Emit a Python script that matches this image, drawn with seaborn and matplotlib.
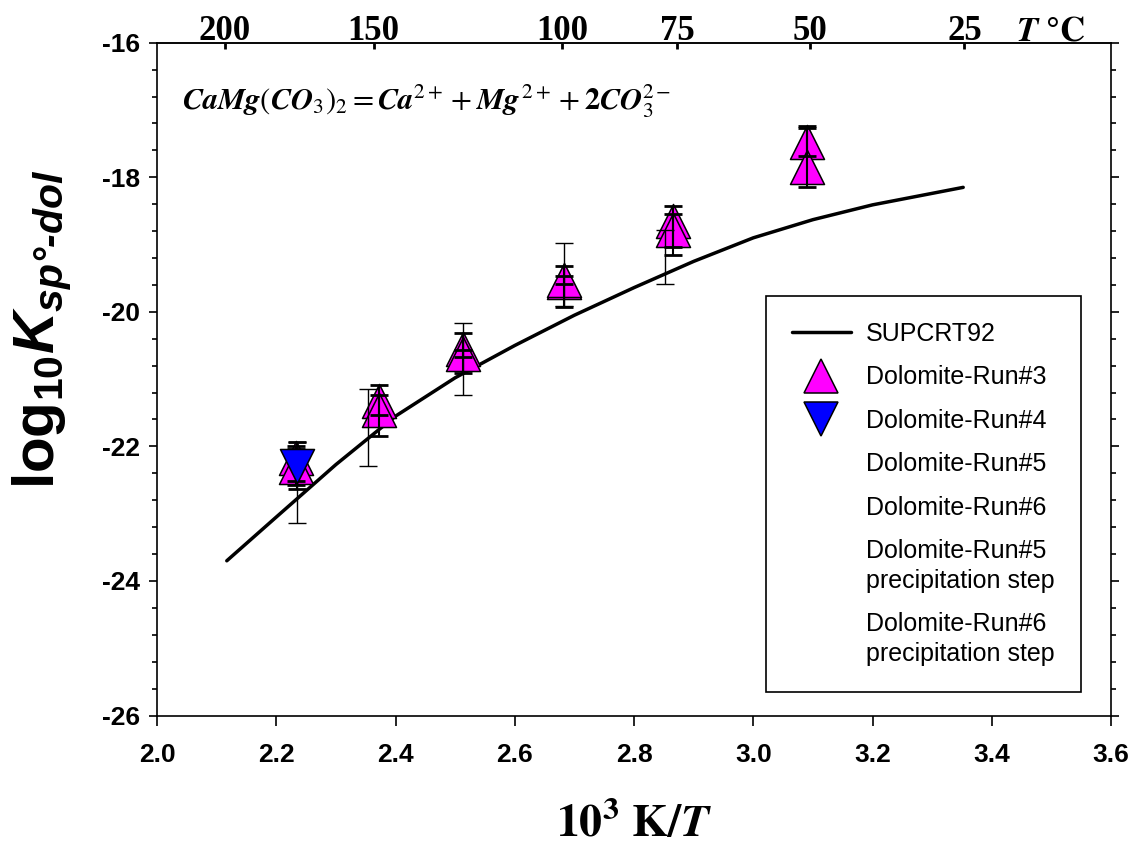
import matplotlib
matplotlib.use("Agg")
import matplotlib.pyplot as plt
import matplotlib.transforms as mtransforms
from matplotlib import font_manager
from matplotlib.ft2font import FT2Font
from matplotlib.lines import Line2D
from matplotlib.ticker import MultipleLocator, FormatStrFormatter
import seaborn as sns

sns.set_theme(style="white")
plt.rcParams["font.family"] = ["Liberation Sans", "DejaVu Sans"]
plt.rcParams["axes.unicode_minus"] = False
plt.rcParams["text.color"] = "black"
plt.rcParams["axes.labelcolor"] = "black"
plt.rcParams["xtick.color"] = "black"
plt.rcParams["ytick.color"] = "black"
plt.rcParams["mathtext.fontset"] = "custom"
plt.rcParams["mathtext.rm"] = "Liberation Sans"
plt.rcParams["mathtext.bf"] = "Liberation Sans:bold"
plt.rcParams["mathtext.it"] = "Liberation Sans:italic"
plt.rcParams["mathtext.bfit"] = "Liberation Sans:bold:italic"

# SUPCRT92 curve
supcrt_x = [2.117, 2.20, 2.30, 2.40, 2.50, 2.60, 2.70, 2.80, 2.90, 3.00, 3.10, 3.20, 3.352]
supcrt_y = [-23.70, -23.05, -22.27, -21.55, -20.98, -20.50, -20.05, -19.64, -19.25, -18.90, -18.63, -18.41, -18.15]

# Dolomite-Run#3
run3_x = [2.233, 2.233, 2.372, 2.372, 2.513, 2.513, 2.683, 2.683, 2.865, 2.865, 3.090, 3.090]
run3_y = [-22.17, -22.30, -21.32, -21.46, -20.55, -20.62, -19.56, -19.52, -18.65, -18.79, -17.47, -17.85]
run3_lo = [0.34, 0.27, 0.22, 0.38, 0.36, 0.05, 0.37, 0.06, 0.38, 0.36, 0.22, 0.30]
run3_hi = [0.18, 0.26, 0.23, 0.22, 0.24, 0.05, 0.24, 0.06, 0.22, 0.25, 0.23, 0.58]

# Dolomite-Run#4
run4_x = [2.235]
run4_y = [-22.29]
run4_lo = [0.34]
run4_hi = [0.36]

# Dolomite-Run#5 (symbols not visible, only error bars)
run5_x = [2.235, 2.354, 2.513, 2.683, 2.852]
run5_y = [-22.54, -21.72, -20.70, -19.45, -19.18]
run5_err = [0.60, 0.57, 0.54, 0.47, 0.40]

legend_labels = ["SUPCRT92", "Dolomite-Run#3", "Dolomite-Run#4", "Dolomite-Run#5",
                 "Dolomite-Run#6", "Dolomite-Run#5\nprecipitation step",
                 "Dolomite-Run#6\nprecipitation step"]

top_temps = [200, 150, 100, 75, 50, 25]

MAGENTA = "#FF00FF"
BLUE = "#0000FF"


def to_celsius(x):
    return 1000.0 / x - 273.15


def to_inv_kelvin(t):
    return 1000.0 / (t + 273.15)


# mathtext turns "-" into a minus sign; use a real hyphen if the font has one
bi_path = font_manager.findfont(font_manager.FontProperties(family="Liberation Sans",
                                                           weight="bold", style="italic"))
hyphen = "\u2010" if FT2Font(bi_path).get_char_index(0x2010) else "-"

fig = plt.figure(figsize=(11.37, 8.49), dpi=100)
ax = fig.add_axes([0.1381, 0.1572, 0.8391, 0.7925])

sns.lineplot(x=supcrt_x, y=supcrt_y, color="black", linewidth=2.5, sort=False, ax=ax, zorder=2)

sns.scatterplot(x=run3_x, y=run3_y, marker="^", s=600, color=MAGENTA, edgecolor="black",
                linewidth=1.1, ax=ax, zorder=3, legend=False)
ax.errorbar(run3_x, run3_y, yerr=[run3_lo, run3_hi], fmt="none", ecolor="black",
            elinewidth=1.5, capsize=6.5, capthick=2, zorder=4)
ax.errorbar(run5_x, run5_y, yerr=run5_err, fmt="none", ecolor="black",
            elinewidth=1, capsize=6.5, capthick=1, zorder=4)
ax.errorbar(run4_x, run4_y, yerr=[run4_lo, run4_hi], fmt="none", ecolor="black",
            elinewidth=1.5, capsize=6.5, capthick=2, zorder=4)
sns.scatterplot(x=run4_x, y=run4_y, marker="v", s=600, color=BLUE, edgecolor="black",
                linewidth=1.1, ax=ax, zorder=5, legend=False)

ax.set_xlim(2.0, 3.6)
ax.set_ylim(-26, -16)
ax.xaxis.set_major_locator(MultipleLocator(0.2))
ax.yaxis.set_major_locator(MultipleLocator(2))
ax.yaxis.set_minor_locator(MultipleLocator(0.4))
ax.xaxis.set_major_formatter(FormatStrFormatter("%.1f"))
ax.grid(False)
for s in ax.spines.values():
    s.set_color("black")
    s.set_linewidth(1.2)

ax.tick_params(axis="x", which="major", direction="out", length=7, width=1.2,
               bottom=True, top=False, labelsize=19, pad=13)
ax.tick_params(axis="y", which="both", direction="out", left=True, right=True,
               width=1.2, labelsize=19, pad=7)
ax.tick_params(axis="y", which="major", length=5.5)
ax.tick_params(axis="y", which="minor", length=3.5)
for lbl in ax.get_xticklabels() + ax.get_yticklabels():
    lbl.set_fontweight("bold")

# temperature axis on top
top = ax.secondary_xaxis("top", functions=(to_celsius, to_inv_kelvin))
top.set_xticks(top_temps, [str(t) for t in top_temps])
top.tick_params(direction="in", length=4, width=2, pad=-4, labelsize=25)
top.spines["top"].set_linewidth(1.2)
for lbl in top.get_xticklabels():
    lbl.set_fontfamily("Liberation Serif")
    lbl.set_fontweight("bold")
trans = mtransforms.blended_transform_factory(ax.transData, ax.transAxes)
ax.text(3.498, 1.004, r"$\mathbfit{T}\ \mathbf{°C}$", transform=trans, ha="center",
        va="baseline", fontsize=25, math_fontfamily="stix")

ax.text(0.026, 0.900,
        r"$\mathbfit{CaMg}(\mathbfit{CO}_3)_2 = \mathbfit{Ca}^{2+} + \mathbfit{Mg}^{\,2+} + \mathbf{2}\mathbfit{CO}_3^{2-}$",
        transform=ax.transAxes, ha="left", va="baseline", fontsize=22, math_fontfamily="stix")

ax.set_xlabel(r"$\mathbf{10^{3}\ K/}\mathbfit{T}$", fontsize=33, math_fontfamily="stix",
              va="baseline")
ax.xaxis.set_label_coords(0.5, -0.181)
ax.set_ylabel(r"$\mathbf{log}_{\mathbf{10}}\mathbfit{K}_{\mathbfit{sp°" + hyphen + r"dol}}$",
              fontsize=42)
ax.yaxis.set_label_coords(-0.088, 0.574)

handles = [
    Line2D([], [], color="black", linewidth=2.5),
    Line2D([], [], marker="^", linestyle="none", markersize=24.5, markerfacecolor=MAGENTA,
           markeredgecolor="black", markeredgewidth=1.1),
    Line2D([], [], marker="v", linestyle="none", markersize=24.5, markerfacecolor=BLUE,
           markeredgecolor="black", markeredgewidth=1.1),
    Line2D([], [], linestyle="none"),
    Line2D([], [], linestyle="none"),
    Line2D([], [], linestyle="none"),
    Line2D([], [], linestyle="none"),
]
leg = ax.legend(handles, legend_labels, loc="upper left", bbox_to_anchor=(0.638, 0.624),
                fontsize=18, frameon=True, fancybox=False, framealpha=1, edgecolor="black",
                borderpad=1.05, handlelength=2.35, handletextpad=0.6, labelspacing=0.78,
                borderaxespad=0)
leg.get_frame().set_linewidth(1.2)
for t in leg.get_texts():
    t.set_linespacing(1.28)

fig.savefig("out.png", dpi=100)
